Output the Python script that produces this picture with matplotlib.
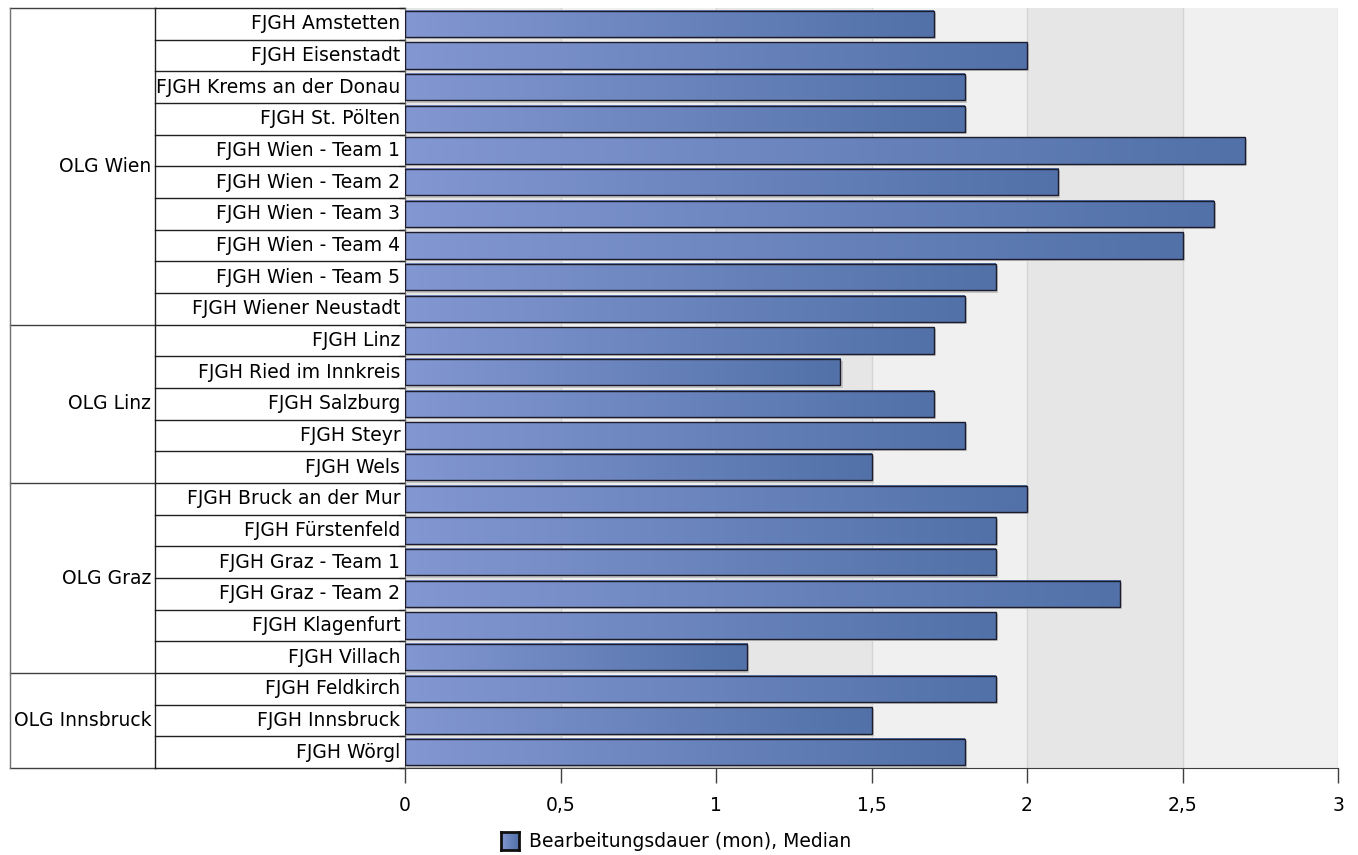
import matplotlib.pyplot as plt
import numpy as np
from matplotlib.patches import Rectangle
from matplotlib.colors import LinearSegmentedColormap
from matplotlib.transforms import blended_transform_factory

groups = ['OLG Wien', 'OLG Linz', 'OLG Graz', 'OLG Innsbruck']
group_sizes = [10, 5, 6, 3]
courts = ['FJGH Amstetten', 'FJGH Eisenstadt', 'FJGH Krems an der Donau',
          'FJGH St. Pölten', 'FJGH Wien - Team 1', 'FJGH Wien - Team 2',
          'FJGH Wien - Team 3', 'FJGH Wien - Team 4', 'FJGH Wien - Team 5',
          'FJGH Wiener Neustadt',
          'FJGH Linz', 'FJGH Ried im Innkreis', 'FJGH Salzburg', 'FJGH Steyr',
          'FJGH Wels',
          'FJGH Bruck an der Mur', 'FJGH Fürstenfeld', 'FJGH Graz - Team 1',
          'FJGH Graz - Team 2', 'FJGH Klagenfurt', 'FJGH Villach',
          'FJGH Feldkirch', 'FJGH Innsbruck', 'FJGH Wörgl']
median = [1.7, 2.0, 1.8, 1.8, 2.7, 2.1, 2.6, 2.5, 1.9, 1.8,
          1.7, 1.4, 1.7, 1.8, 1.5,
          2.0, 1.9, 1.9, 2.3, 1.9, 1.1,
          1.9, 1.5, 1.8]
xticks = [0, 0.5, 1, 1.5, 2, 2.5, 3]
xticklabels = ['0', '0,5', '1', '1,5', '2', '2,5', '3']
series_name = 'Bearbeitungsdauer (mon), Median'

plt.rcParams['font.family'] = 'DejaVu Sans'
fs = 13.5
W, H = 1358, 855
fig = plt.figure(figsize=(W/100., H/100.), dpi=100)
ax = fig.add_axes([405/W, 1-768/H, 933/W, 760/H])

cmap = LinearSegmentedColormap.from_list('bar', ['#8397d2', '#5171a8'])
grad = np.linspace(0, 1, 256).reshape(1, -1)

n = len(courts)

# alternating background bands
for i in range(6):
    col = '#e6e6e6' if i % 2 == 0 else '#f0f0f0'
    ax.axvspan(i*0.5, (i+1)*0.5, color=col, zorder=0, lw=0)
for x in xticks[1:]:
    ax.axvline(x, color='#d4d4d4', lw=1, zorder=0.5)

h = 0.84
dx, dy = 0.007, 0.07
for i, v in enumerate(median):
    # shadow
    ax.add_patch(Rectangle((dx, i-h/2+dy), v, h, facecolor='#c4c4c4',
                           edgecolor='none', zorder=1))
    ax.imshow(grad, cmap=cmap, aspect='auto', extent=[0, v, i+h/2, i-h/2],
              zorder=2, interpolation='bilinear')
    ax.add_patch(Rectangle((0, i-h/2), v, h, facecolor='none',
                           edgecolor='#1c1c2c', lw=1, zorder=3))
ax.set_xlim(0, 3)
ax.set_ylim(n-0.5, -0.5)

for s in ['top', 'right']:
    ax.spines[s].set_visible(False)
ax.spines['left'].set_color('#606060')
ax.spines['bottom'].set_color('#404040')
ax.set_xticks(xticks)
ax.set_xticklabels(xticklabels, fontsize=fs)
ax.tick_params(axis='x', length=11, width=1, color='#404040', pad=9)
ax.set_yticks(np.arange(n+1)-0.5)
ax.set_yticklabels([])
ax.tick_params(axis='y', length=4, width=1, color='#606060')

# table on the left
tr = blended_transform_factory(ax.transAxes, ax.transData)
x0, x1 = (10-405)/933., (155-405)/933.
for i, c in enumerate(courts):
    ax.text(-0.005, i, c, transform=tr, ha='right', va='center', fontsize=fs)
    ax.plot([x1, 0], [i-0.5, i-0.5], transform=tr, color='#202020', lw=1,
            clip_on=False)
ax.plot([x1, 0], [n-0.5, n-0.5], transform=tr, color='#202020', lw=1,
        clip_on=False)
start = 0
for g, sz in zip(groups, group_sizes):
    ax.plot([x0, x1], [start-0.5, start-0.5], transform=tr, color='#404040',
            lw=1, clip_on=False)
    ax.text(x1-0.004, start + (sz-1)/2., g, transform=tr, ha='right',
            va='center', fontsize=fs)
    start += sz
ax.plot([x0, x1], [n-0.5, n-0.5], transform=tr, color='#404040', lw=1,
        clip_on=False)
ax.plot([x0, x0], [-0.5, n-0.5], transform=tr, color='#707070', lw=1,
        clip_on=False)
ax.plot([x1, x1], [-0.5, n-0.5], transform=tr, color='#202020', lw=1,
        clip_on=False)

# legend
lax = fig.add_axes([501/W, 1-850/H, 18/W, 18/H])
lax.imshow(grad, cmap=cmap, aspect='auto', interpolation='bilinear')
lax.set_xticks([])
lax.set_yticks([])
for s in lax.spines.values():
    s.set_linewidth(2)
    s.set_color('#101010')
fig.text(529/W, 1-841/H, series_name, ha='left', va='center', fontsize=fs)

plt.savefig('out.png', dpi=100)
